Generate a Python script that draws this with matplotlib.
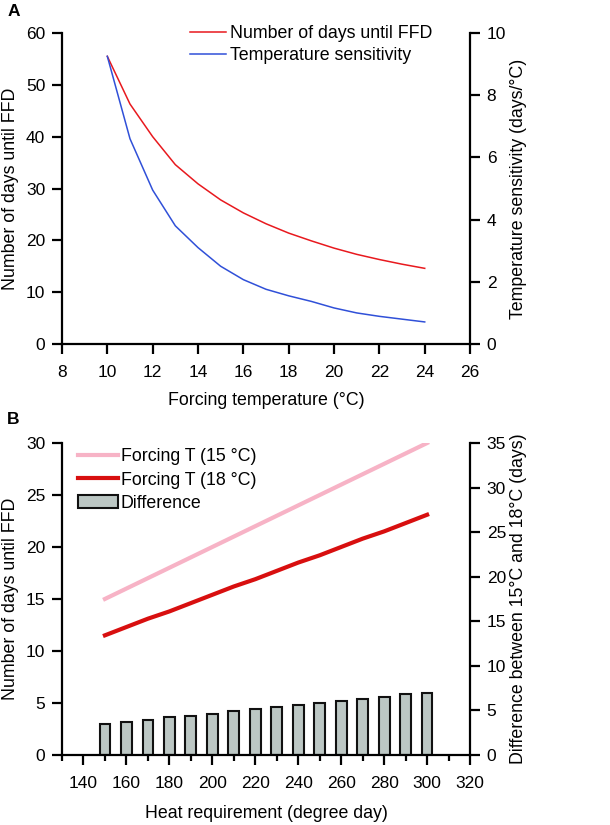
import matplotlib
matplotlib.use("Agg")
import matplotlib.pyplot as plt
from matplotlib.ticker import MultipleLocator

plt.rcParams['font.family'] = ['Liberation Sans', 'DejaVu Sans']
plt.rcParams['font.size'] = 12.5

# Panel A data
temps = [10, 11, 12, 13, 14, 15, 16, 17, 18, 19, 20, 21, 22, 23, 24]
days_ffd = [55.5, 46.3, 40.0, 34.6, 30.9, 27.8, 25.3, 23.2, 21.4, 19.9, 18.5, 17.3, 16.3, 15.4, 14.6]
sensitivity = [9.25, 6.6, 4.95, 3.8, 3.1, 2.5, 2.07, 1.76, 1.55, 1.37, 1.16, 1.0, 0.89, 0.8, 0.71]

# Panel B data
heat_req = [150, 160, 170, 180, 190, 200, 210, 220, 230, 240, 250, 260, 270, 280, 290, 300]
days_15 = [15.0, 16.0, 17.0, 18.0, 19.0, 20.0, 21.0, 22.0, 23.0, 24.0, 25.0, 26.0, 27.0, 28.0, 29.0, 30.0]
days_18 = [11.5, 12.3, 13.1, 13.8, 14.6, 15.4, 16.2, 16.9, 17.7, 18.5, 19.2, 20.0, 20.8, 21.5, 22.3, 23.1]
difference = [3.5, 3.7, 3.9, 4.2, 4.4, 4.6, 4.9, 5.1, 5.4, 5.6, 5.8, 6.1, 6.3, 6.5, 6.8, 7.0]

TICK_FS = 12.5
LAB_FS = 12.8

fig = plt.figure(figsize=(6.1, 8.25), dpi=100)

def style_main(ax):
    ax.spines['top'].set_visible(False)
    ax.spines['right'].set_visible(False)
    for s in ('left', 'bottom'):
        ax.spines[s].set_linewidth(1.6)
    ax.tick_params(direction='out', width=1.6, length=7, labelsize=TICK_FS, pad=5)
    ax.tick_params(axis='x', pad=8)

def style_twin(ax):
    for s in ('top', 'left', 'bottom'):
        ax.spines[s].set_visible(False)
    ax.spines['right'].set_linewidth(1.6)
    ax.tick_params(direction='out', width=1.6, length=7, labelsize=TICK_FS, pad=5)

# ---------------- Panel A ----------------
axA = fig.add_axes([0.1016, 0.583, 0.669, 0.377])
axA2 = axA.twinx()
lA1, = axA.plot(temps, days_ffd, color='#e8191e', lw=1.1, label='Number of days until FFD')
lA2, = axA2.plot(temps, sensitivity, color='#3050d8', lw=1.1, label='Temperature sensitivity')
axA.set_xlim(8, 26)
axA.set_ylim(0, 60)
axA2.set_ylim(0, 10)
axA.xaxis.set_major_locator(MultipleLocator(2))
axA.yaxis.set_major_locator(MultipleLocator(10))
axA2.yaxis.set_major_locator(MultipleLocator(2))
style_main(axA)
style_twin(axA2)
axA.set_xlabel('Forcing temperature (°C)', fontsize=LAB_FS, labelpad=9)
axA.set_ylabel('Number of days until FFD', fontsize=LAB_FS, labelpad=5)
axA2.set_ylabel('Temperature sensitivity (days/°C)', fontsize=LAB_FS, labelpad=3)
axA.legend(handles=[lA1, lA2], loc='upper left', bbox_to_anchor=(0.314, 1.026), frameon=False,
           fontsize=LAB_FS, handlelength=2.0, handletextpad=0.25, labelspacing=0.3,
           borderpad=0, borderaxespad=0)
fig.text(0.012, 0.995, 'A', fontsize=12.5, fontweight='bold', va='top')

# ---------------- Panel B ----------------
axB = fig.add_axes([0.1016, 0.085, 0.669, 0.378])
axB2 = axB.twinx()
bars = axB2.bar(heat_req, difference, width=5, color='#bcc7c4', edgecolor='#111111', linewidth=1.5,
                label='Difference', zorder=2)
lB1, = axB.plot(heat_req, days_15, color='#f7b3c6', lw=3, label='Forcing T (15 °C)', zorder=3)
lB2, = axB.plot(heat_req, days_18, color='#d80f0f', lw=3, label='Forcing T (18 °C)', zorder=3)
axB.set_zorder(axB2.get_zorder() + 1)
axB.patch.set_visible(False)
axB.set_xlim(130, 320)
axB.set_ylim(0, 30)
axB2.set_ylim(0, 35)
axB.xaxis.set_major_locator(MultipleLocator(20))
axB.xaxis.set_minor_locator(MultipleLocator(10))
axB.yaxis.set_major_locator(MultipleLocator(5))
axB2.yaxis.set_major_locator(MultipleLocator(5))
style_main(axB)
axB.tick_params(axis='x', which='minor', direction='out', width=1.6, length=4)
style_twin(axB2)
axB.set_xlabel('Heat requirement (degree day)', fontsize=LAB_FS, labelpad=10)
axB.set_ylabel('Number of days until FFD', fontsize=LAB_FS, labelpad=5)
axB2.set_ylabel('Difference between 15°C and 18°C (days)', fontsize=LAB_FS, labelpad=3)
axB.legend(handles=[lB1, lB2, bars], loc='upper left', bbox_to_anchor=(0.039, 0.983), frameon=False,
           fontsize=LAB_FS, handlelength=2.25, handletextpad=0.15, labelspacing=0.35,
           borderpad=0, borderaxespad=0)
fig.text(0.012, 0.5, 'B', fontsize=12.5, fontweight='bold', va='top')

fig.savefig('out.png', dpi=100)
